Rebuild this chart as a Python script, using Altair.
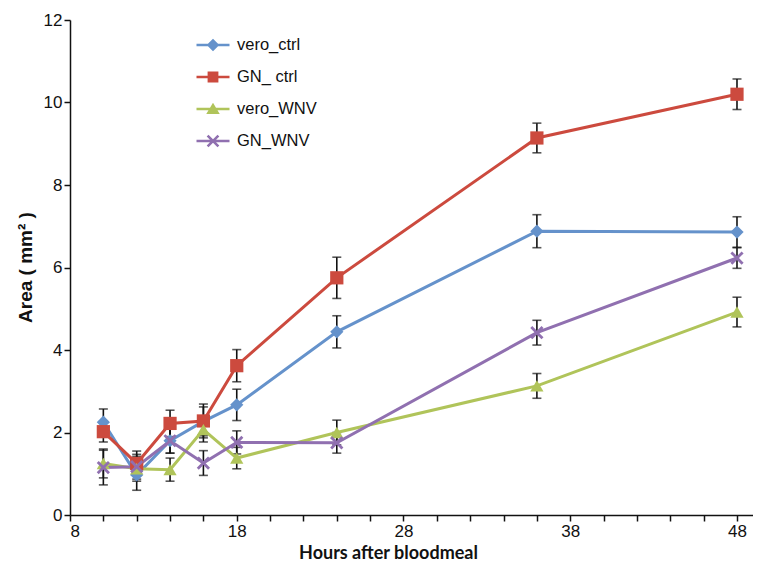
import altair as alt
import pandas as pd

hours = [10, 12, 14, 16, 18, 24, 36, 48]
series_names = ["vero_ctrl", "GN_ ctrl", "vero_WNV", "GN_WNV"]
colors = ["#6592CB", "#CC4A3E", "#B0C45A", "#9070B0"]

vero_ctrl = [2.25, 0.97, 1.80, 2.27, 2.67, 4.44, 6.88, 6.86]
vero_ctrl_err = [0.32, 0.37, 0.30, 0.35, 0.38, 0.39, 0.40, 0.37]
gn_ctrl = [2.02, 1.25, 2.22, 2.28, 3.62, 5.75, 9.14, 10.20]
gn_ctrl_err = [0.25, 0.30, 0.32, 0.41, 0.39, 0.50, 0.36, 0.37]
vero_wnv = [1.25, 1.12, 1.10, 2.07, 1.38, 2.00, 3.13, 4.92]
vero_wnv_err = [0.35, 0.30, 0.28, 0.30, 0.26, 0.30, 0.30, 0.36]
gn_wnv = [1.15, 1.17, 1.80, 1.26, 1.76, 1.75, 4.42, 6.23]
gn_wnv_err = [0.42, 0.30, 0.30, 0.30, 0.28, 0.25, 0.30, 0.25]

x_tick_values = list(range(8, 50, 2))
y_tick_values = [0, 2, 4, 6, 8, 10, 12]

X_PATH = ("M-1,-0.7L-0.7,-1L0,-0.3L0.7,-1L1,-0.7L0.3,0L1,0.7L0.7,1L0,0.3"
          "L-0.7,1L-1,0.7L-0.3,0Z")
plot_shapes = ["diamond", "square", "triangle-up", X_PATH]

LINE = "M-1.1,-0.08H1.1V0.08H-1.1Z"
legend_shapes = [
    LINE + "M0,-0.42L0.42,0L0,0.42L-0.42,0Z",
    LINE + "M-0.36,-0.36H0.36V0.36H-0.36Z",
    LINE + "M0,-0.42L0.45,0.34H-0.45Z",
    LINE + "M-0.42,-0.3L-0.3,-0.42L0,-0.12L0.3,-0.42L0.42,-0.3L0.12,0L0.42,0.3"
           "L0.3,0.42L0,0.12L-0.3,0.42L-0.42,0.3L-0.12,0Z",
]

rows = []
for name, vals, errs in zip(series_names,
                            [vero_ctrl, gn_ctrl, vero_wnv, gn_wnv],
                            [vero_ctrl_err, gn_ctrl_err, vero_wnv_err, gn_wnv_err]):
    for h, v, e in zip(hours, vals, errs):
        rows.append({"series": name, "hour": h, "area": v, "lo": v - e, "hi": v + e})
df = pd.DataFrame(rows)

x_enc = alt.X(
    "hour:Q",
    scale=alt.Scale(domain=[8, 48.96], nice=False, zero=False),
    axis=alt.Axis(
        values=x_tick_values,
        labelExpr="(datum.value - 8) % 10 == 0 ? datum.label : ''",
        title="Hours after bloodmeal",
        titleFont="Lato",
        titleFontSize=18,
        titleFontWeight="bold",
        titleX=318,
        titleY=47,
        titleBaseline="bottom",
        labelPadding=2,
    ),
)
y_scale = alt.Scale(domain=[0, 12], nice=False)
y_enc = alt.Y(
    "area:Q",
    scale=y_scale,
    axis=alt.Axis(
        values=y_tick_values,
        title="Area ( mm² )",
        titleFont="Liberation Sans",
        titleFontSize=19,
        titleFontWeight="bold",
        titleX=-45,
        titleY=247,
        titleAngle=-90,
        titleAlign="center",
        titleBaseline="middle",
    ),
)

color_scale = alt.Scale(domain=series_names, range=colors)

base = alt.Chart(df)

err_rule = base.mark_rule(color="#111111", strokeWidth=1.6).encode(
    x=x_enc, y=alt.Y("lo:Q", scale=y_scale), y2="hi:Q"
)
err_caps = base.transform_fold(["lo", "hi"], as_=["end", "val"]).mark_tick(
    color="#111111", orient="horizontal", size=9, thickness=1.6
).encode(x=x_enc, y=alt.Y("val:Q", scale=y_scale))

lines = base.mark_line(strokeWidth=3).encode(
    x=x_enc,
    y=y_enc,
    color=alt.Color("series:N", scale=color_scale, legend=None),
    detail="series:N",
)

points = base.mark_point(filled=True, opacity=1, size=175).encode(
    x=x_enc,
    y=y_enc,
    color=alt.Color("series:N", scale=color_scale, legend=None),
    shape=alt.Shape("series:N", scale=alt.Scale(domain=series_names, range=plot_shapes),
                    legend=None),
)

legend_props = dict(
    orient="none", legendX=128, legendY=10, title=None,
    symbolSize=900, symbolOpacity=1, symbolStrokeWidth=0,
    labelFont="Liberation Sans", labelFontSize=16.5, labelColor="#111111",
    labelOffset=9, rowPadding=8, padding=0,
)
legend_layer = base.mark_point(filled=True, opacity=0).encode(
    x=x_enc,
    y=y_enc,
    color=alt.Color("series:N", scale=color_scale, legend=alt.Legend(**legend_props)),
    shape=alt.Shape("series:N", scale=alt.Scale(domain=series_names, range=legend_shapes),
                    legend=alt.Legend(**legend_props)),
)

chart = (
    alt.layer(err_rule, err_caps, lines, points, legend_layer)
    .resolve_scale(color="independent", shape="independent")
    .properties(
        width=683,
        height=495,
        autosize=alt.AutoSizeParams(type="none"),
        padding={"left": 62, "top": 12, "right": 0, "bottom": 47},
        background="white",
    )
    .configure_view(stroke=None)
    .configure_axis(
        grid=False,
        domainColor="#111111",
        domainWidth=1.5,
        tickColor="#111111",
        tickWidth=1.5,
        tickSize=6,
        labelFont="Liberation Sans",
        labelFontSize=17,
        labelColor="#111111",
        titleColor="#111111",
    )
)

chart.save("out.html", embed_options={"renderer": "svg", "actions": False})
